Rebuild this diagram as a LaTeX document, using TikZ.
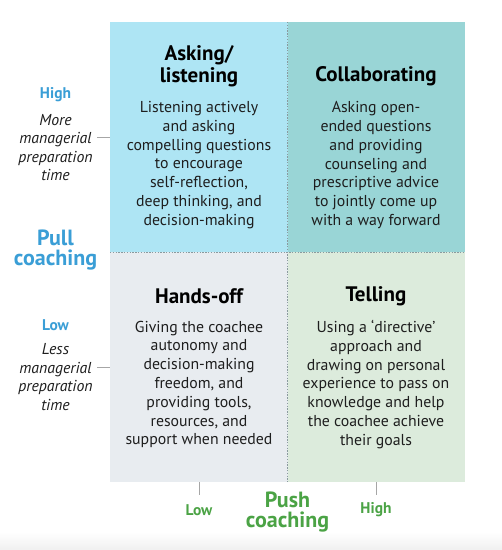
\documentclass[tikz,border=0pt]{standalone}
\usepackage{fontspec}
\setmainfont{PT Sans}
\definecolor{qTL}{HTML}{AEE5F4}
\definecolor{qTR}{HTML}{99D5D6}
\definecolor{qBL}{HTML}{E8ECF0}
\definecolor{qBR}{HTML}{DCEBDC}
\definecolor{pullblue}{HTML}{3A9ED6}
\definecolor{pushgreen}{HTML}{4BA345}
\definecolor{bodytext}{HTML}{1E1E1E}
\definecolor{divline}{HTML}{8A9A9E}
\begin{document}
\begin{tikzpicture}[x=1pt,y=-1pt,
  title/.style={font=\fontsize{21}{22.5}\selectfont\bfseries, text=black, align=center, inner sep=0pt},
  body/.style={font=\fontsize{15.8}{18.8}\selectfont, text=bodytext, align=center, inner sep=0pt},
  axlevelB/.style={font=\fontsize{15.5}{17}\selectfont\bfseries, text=pullblue, inner sep=0pt},
  axlevelG/.style={font=\fontsize{15.5}{17}\selectfont\bfseries, text=pushgreen, inner sep=0pt},
  axdesc/.style={font=\fontsize{15.8}{18.6}\selectfont\itshape, text=bodytext, align=center, inner sep=0pt},
  axname/.style={font=\fontsize{22}{20.5}\selectfont\bfseries, align=center, inner sep=0pt},
  divider/.style={divline, line width=0.7pt, dash pattern=on 1.4pt off 1.4pt},
  tick/.style={gray!70, line width=0.8pt}
]
\useasboundingbox (0,0) rectangle (502,550);
\fill[white] (0,0) rectangle (502,550);
\shade[top color=white, bottom color=black!6] (0,532) rectangle (502,550);
% quadrants
\coordinate (TL) at (110,22);
\coordinate (TM) at (287.5,22);
\coordinate (TR) at (465,22);
\coordinate (ML) at (110,252);
\coordinate (MR) at (465,252);
\coordinate (BL) at (110,482);
\coordinate (BM) at (287.5,482);
\coordinate (BR) at (465,482);
\fill[qTL] (TL) rectangle (287.5,252);
\fill[qTR] (TM) rectangle (MR);
\fill[qBL] (ML) rectangle (BM);
\fill[qBR] (287.5,252) rectangle (BR);
\draw[divider] (TM) -- (BM);
\draw[divider] (ML) -- (MR);
% quadrant texts
\node[title] (t1) at (199,66) {Asking/\\listening};
\node[body] (b1) at (199,165) {Listening actively\\and asking\\compelling questions\\to encourage\\self-reflection,\\deep thinking, and\\decision-making};
\node[title] (t2) at (376,76) {Collaborating};
\node[body] (b2) at (376,165) {Asking open-\\ended questions\\and providing\\counseling and\\prescriptive advice\\to jointly come up\\with a way forward};
\node[title] (t3) at (199,296) {Hands-off};
\node[body] (b3) at (199,384.5) {Giving the coachee\\autonomy and\\decision-making\\freedom, and\\providing tools,\\resources, and\\support when needed};
\node[title] (t4) at (376,296) {Telling};
\node[body] (b4) at (376,384.5) {Using a `directive'\\approach and\\drawing on personal\\experience to pass on\\knowledge and help\\the coachee achieve\\their goals};
% left axis
\node[axlevelB] (hiL) at (55.5,95) {High};
\node[axdesc] (moreL) at (55.5,147.5) {More\\managerial\\preparation\\time};
\coordinate (tk1a) at (97,137);
\coordinate (tk1b) at (110,137);
\draw[tick] (tk1a) -- (tk1b);
\node[axname, text=pullblue] (pull) at (55.5,250) {Pull\\coaching};
\node[axlevelB] (loL) at (55.5,325) {Low};
\node[axdesc] (lessL) at (55.5,377) {Less\\managerial\\preparation\\time};
\coordinate (tk2a) at (97,367);
\coordinate (tk2b) at (110,367);
\draw[tick] (tk2a) -- (tk2b);
% bottom axis
\coordinate (tk3a) at (199,482);
\coordinate (tk3b) at (199,495);
\coordinate (tk4a) at (376,482);
\coordinate (tk4b) at (376,495);
\draw[tick] (tk3a) -- (tk3b);
\draw[tick] (tk4a) -- (tk4b);
\node[axlevelG] (loB) at (199,510) {Low};
\node[axlevelG] (hiB) at (376,510) {High};
\node[axname, text=pushgreen] (push) at (287.5,512) {Push\\coaching};
\end{tikzpicture}
\end{document}
